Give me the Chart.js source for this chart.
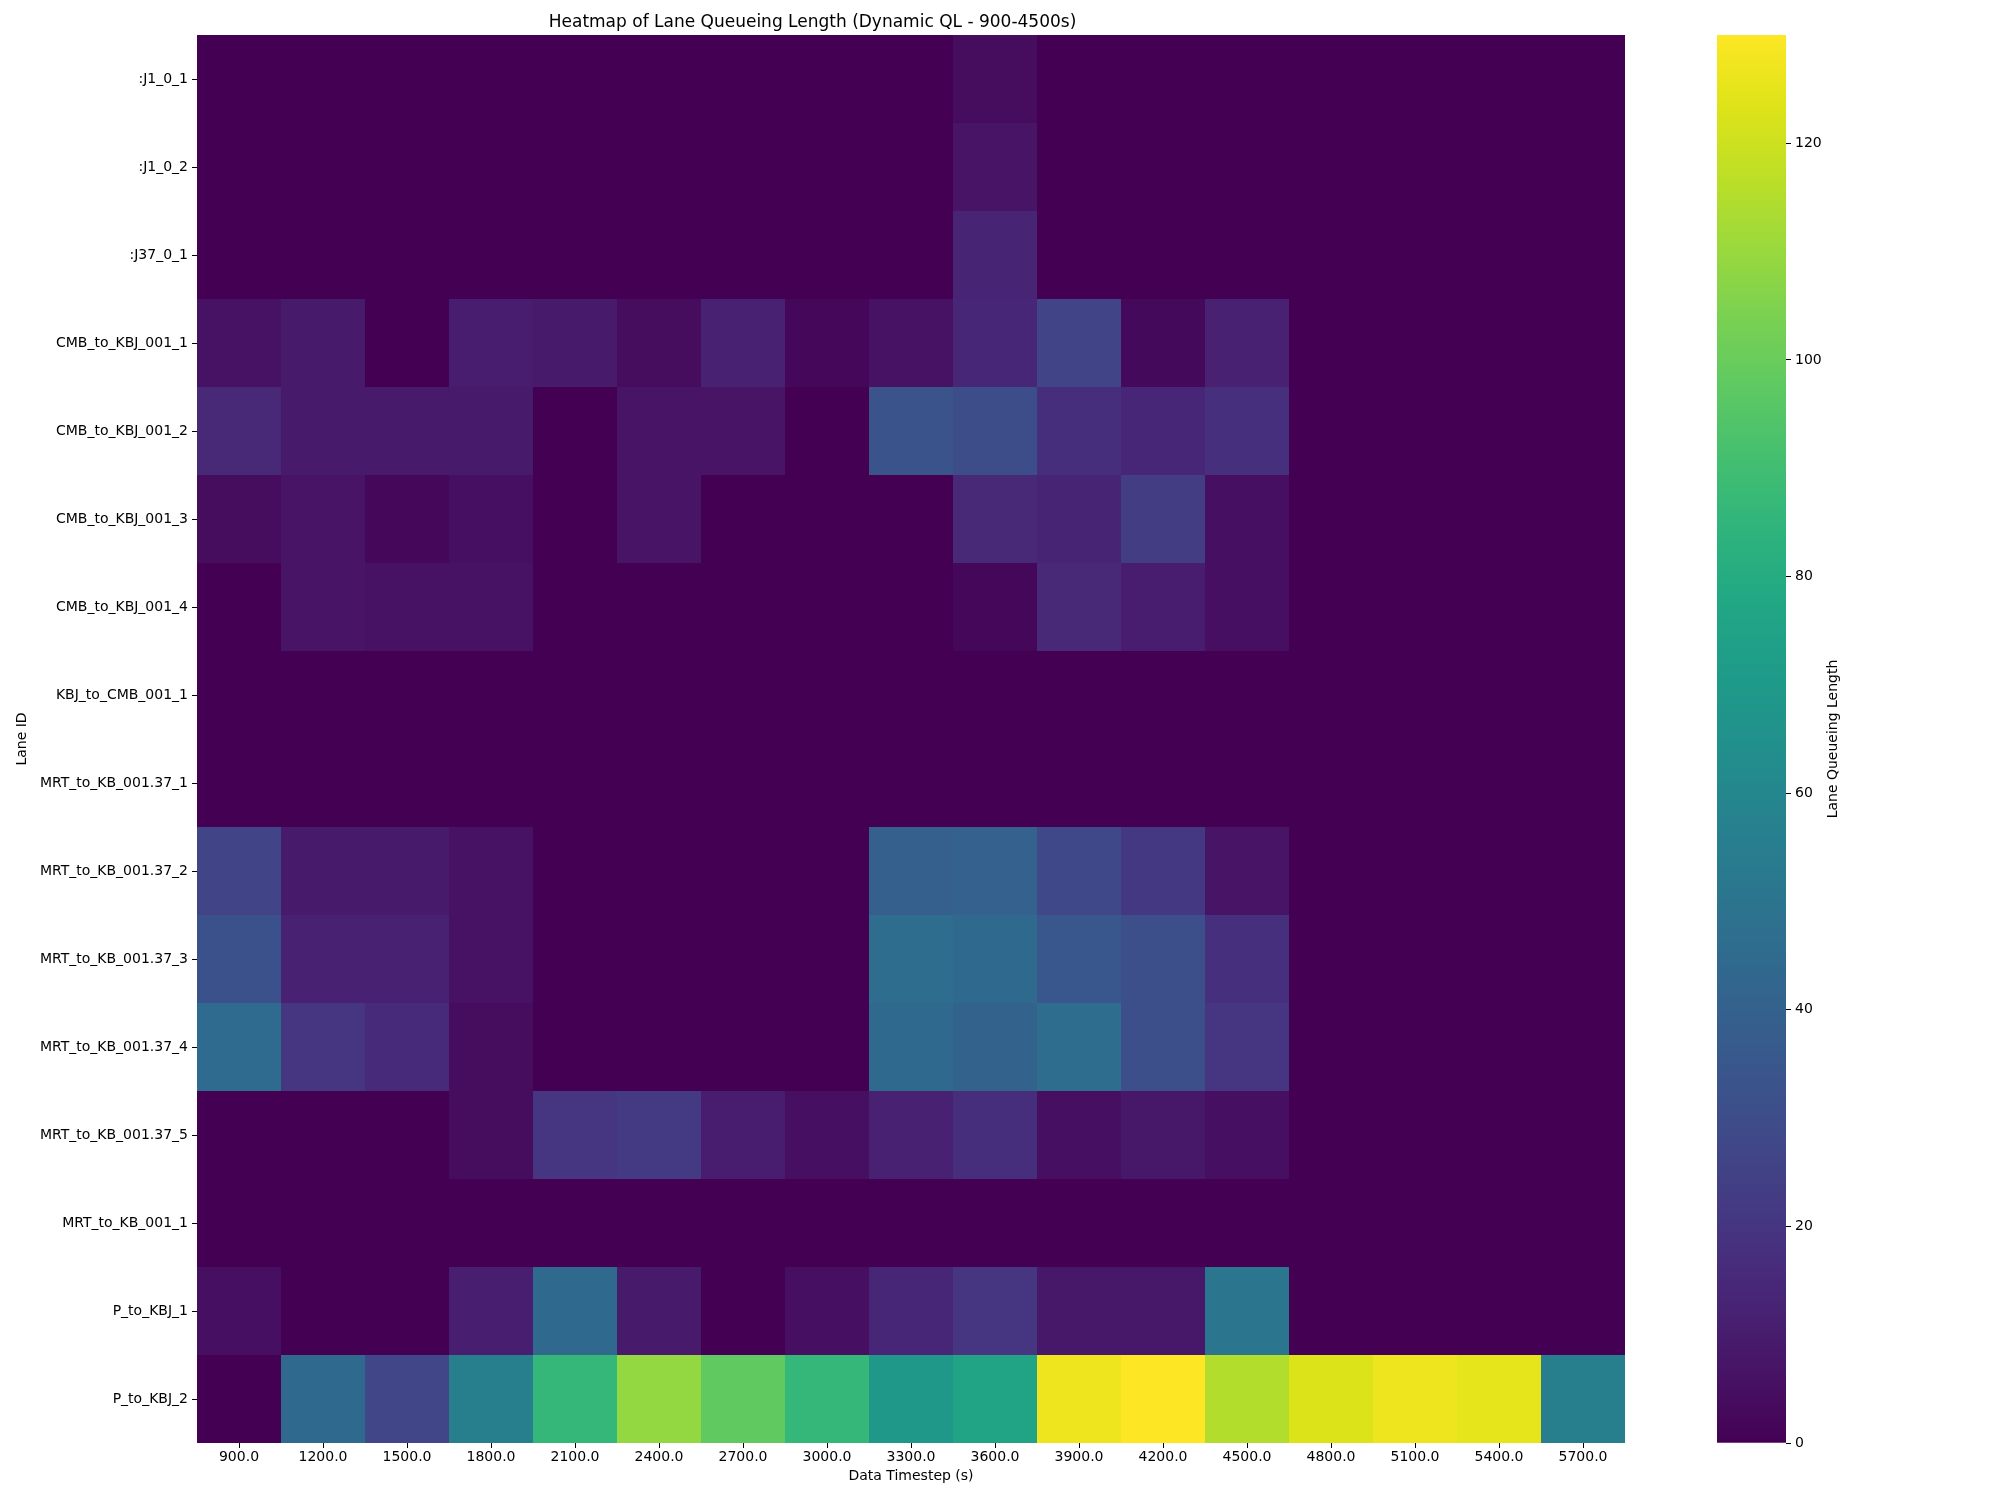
<!DOCTYPE html>
<html>
<head>
<meta charset="utf-8">
<script src="https://cdn.jsdelivr.net/npm/chart.js@4.4.1/dist/chart.umd.min.js"></script>
<style>
  html, body { margin: 0; padding: 0; background: #fff; }
  #wrap { position: relative; width: 2000px; height: 1500px; }
  #main-box { position: absolute; left: 0; top: 0; width: 1700px; height: 1500px; }
  #cbar-box { position: absolute; left: 1700px; top: 0; width: 300px; height: 1500px; }
</style>
</head>
<body>
<div id="wrap">
  <div id="main-box"><canvas id="heatmap"></canvas></div>
  <div id="cbar-box"><canvas id="colorbar"></canvas></div>
</div>
<script>
// レーン待ち行列長ヒートマップ（seaborn 風）

// --- データ ---
const timesteps = ['900.0', '1200.0', '1500.0', '1800.0', '2100.0', '2400.0', '2700.0', '3000.0', '3300.0',
  '3600.0', '3900.0', '4200.0', '4500.0', '4800.0', '5100.0', '5400.0', '5700.0'];

const laneIds = [':J1_0_1', ':J1_0_2', ':J37_0_1', 'CMB_to_KBJ_001_1', 'CMB_to_KBJ_001_2', 'CMB_to_KBJ_001_3',
  'CMB_to_KBJ_001_4', 'KBJ_to_CMB_001_1', 'MRT_to_KB_001.37_1', 'MRT_to_KB_001.37_2', 'MRT_to_KB_001.37_3',
  'MRT_to_KB_001.37_4', 'MRT_to_KB_001.37_5', 'MRT_to_KB_001_1', 'P_to_KBJ_1', 'P_to_KBJ_2'];

// 各レーンの値（timesteps 順）
const qJ1_0_1   = [0, 0, 0, 0, 0, 0, 0, 0, 0, 4, 0, 0, 0, 0, 0, 0, 0];
const qJ1_0_2   = [0, 0, 0, 0, 0, 0, 0, 0, 0, 7, 0, 0, 0, 0, 0, 0, 0];
const qJ37_0_1  = [0, 0, 0, 0, 0, 0, 0, 0, 0, 13, 0, 0, 0, 0, 0, 0, 0];
const qCMB_1    = [6, 9, 0, 10, 9, 4, 12, 2, 6, 14, 26, 3, 12, 0, 0, 0, 0];
const qCMB_2    = [15, 9, 9, 9, 0, 7, 7, 0, 33, 30, 17, 14, 18, 0, 0, 0, 0];
const qCMB_3    = [4, 7, 2, 5, 0, 7, 0, 0, 0, 15, 13, 23, 5, 0, 0, 0, 0];
const qCMB_4    = [0, 7, 6, 6, 0, 0, 0, 0, 0, 2, 15, 10, 5, 0, 0, 0, 0];
const qKBJ_1    = [0, 0, 0, 0, 0, 0, 0, 0, 0, 0, 0, 0, 0, 0, 0, 0, 0];
const qMRT37_1  = [0, 0, 0, 0, 0, 0, 0, 0, 0, 0, 0, 0, 0, 0, 0, 0, 0];
const qMRT37_2  = [26, 9, 9, 6, 0, 0, 0, 0, 39, 40, 28, 21, 7, 0, 0, 0, 0];
const qMRT37_3  = [32, 12, 12, 6, 0, 0, 0, 0, 46, 44, 35, 31, 18, 0, 0, 0, 0];
const qMRT37_4  = [45, 20, 16, 4, 0, 0, 0, 0, 44, 41, 46, 31, 20, 0, 0, 0, 0];
const qMRT37_5  = [0, 0, 0, 4, 20, 22, 10, 5, 12, 17, 5, 8, 5, 0, 0, 0, 0];
const qMRT_1    = [0, 0, 0, 0, 0, 0, 0, 0, 0, 0, 0, 0, 0, 0, 0, 0, 0];
const qP_1      = [5, 0, 0, 11, 44, 9, 0, 5, 14, 20, 8, 8, 51, 0, 0, 0, 0];
const qP_2      = [0, 44, 27, 56, 86, 109, 98, 86, 69, 76, 127, 130, 115, 123, 127, 125, 56];

const laneValues = [qJ1_0_1, qJ1_0_2, qJ37_0_1, qCMB_1, qCMB_2, qCMB_3, qCMB_4, qKBJ_1,
  qMRT37_1, qMRT37_2, qMRT37_3, qMRT37_4, qMRT37_5, qMRT_1, qP_1, qP_2];

const vmin = 0;
const vmax = 130;
const colorbarTicks = [0, 20, 40, 60, 80, 100, 120];

// viridis カラーマップ（等間隔ストップ）
const viridis = ['#440154', '#471365', '#482475', '#463480', '#414487', '#3b528b', '#355f8d',
  '#2f6c8e', '#2a788e', '#25848e', '#21918c', '#1e9c89', '#22a884', '#2fb47c', '#44bf70',
  '#5ec962', '#7ad151', '#9bd93c', '#bddf26', '#dfe318', '#fde725'];

function hexToRgb(h) {
  return [parseInt(h.slice(1, 3), 16), parseInt(h.slice(3, 5), 16), parseInt(h.slice(5, 7), 16)];
}

function colorFor(v) {
  let t = (v - vmin) / (vmax - vmin);
  t = Math.max(0, Math.min(1, t));
  const pos = t * (viridis.length - 1);
  const i = Math.min(Math.floor(pos), viridis.length - 2);
  const f = pos - i;
  const a = hexToRgb(viridis[i]);
  const b = hexToRgb(viridis[i + 1]);
  const c = a.map((x, k) => Math.round(x + (b[k] - x) * f));
  return `rgb(${c[0]}, ${c[1]}, ${c[2]})`;
}

Chart.defaults.font.family = '"DejaVu Sans", sans-serif';
Chart.defaults.color = '#000';

// --- ヒートマップ本体 ---
// 各レーンを1データセットとし、[行, 行+1] の浮動バーでセルを描く
// プロット領域は 1428x1408（84px x 88px のセル）にしてセル境界を整数ピクセルに揃える
const datasets = laneIds.map((lane, r) => ({
  label: lane,
  data: timesteps.map(() => [r, r + 1]),
  backgroundColor: laneValues[r].map(v => colorFor(v)),
  borderWidth: 0,
  inflateAmount: 0,
  barPercentage: 1.0,
  categoryPercentage: 1.0,
  grouped: false
}));

new Chart(document.getElementById('heatmap'), {
  type: 'bar',
  data: { labels: timesteps, datasets },
  options: {
    responsive: true,
    maintainAspectRatio: false,
    animation: false,
    layout: { padding: { left: 0, right: 75, top: 0, bottom: 0 } },
    plugins: {
      legend: { display: false },
      tooltip: { enabled: false },
      title: {
        display: true,
        text: 'Heatmap of Lane Queueing Length (Dynamic QL - 900-4500s)',
        font: { size: 17, weight: 'normal', lineHeight: 1.2 },
        color: '#000',
        padding: { top: 12, bottom: 2.6 }
      }
    },
    scales: {
      x: {
        type: 'category',
        offset: true,
        grid: { display: true, offset: false, drawOnChartArea: false, tickLength: 5, color: '#000' },
        border: { display: false },
        ticks: { font: { size: 14 }, padding: 1, maxRotation: 0, autoSkip: false },
        title: { display: true, text: 'Data Timestep (s)', font: { size: 14 }, padding: { top: 4, bottom: 15 } },
        afterFit: scale => { scale.height = 57; }
      },
      y: {
        type: 'linear',
        reverse: true,
        min: 0,
        max: laneIds.length,
        grid: { display: true, drawOnChartArea: false, tickLength: 5, color: '#000' },
        border: { display: false },
        afterBuildTicks: scale => { scale.ticks = laneIds.map((l, i) => ({ value: i + 0.5 })); },
        ticks: {
          font: { size: 14 },
          padding: 4,
          autoSkip: false,
          callback: (value, index) => laneIds[index]
        },
        title: { display: true, text: 'Lane ID', font: { size: 14 }, padding: { top: 14, bottom: 0 } },
        afterFit: scale => { scale.width = 197; }
      }
    }
  }
});

// --- カラーバー ---
const cbarLabelPlugin = {
  id: 'cbarLabel',
  afterDraw(chart) {
    const ctx = chart.ctx;
    const area = chart.chartArea;
    ctx.save();
    ctx.translate(133, (area.top + area.bottom) / 2);
    ctx.rotate(-Math.PI / 2);
    ctx.font = '14px "DejaVu Sans", sans-serif';
    ctx.fillStyle = '#000';
    ctx.textAlign = 'center';
    ctx.textBaseline = 'middle';
    ctx.fillText('Lane Queueing Length', 0, 0);
    ctx.restore();
  }
};

new Chart(document.getElementById('colorbar'), {
  type: 'bar',
  data: {
    labels: ['cbar'],
    datasets: [{
      data: [[vmin, vmax]],
      borderWidth: 0,
      barPercentage: 1.0,
      categoryPercentage: 1.0,
      backgroundColor: (c) => {
        const area = c.chart.chartArea;
        if (!area) return viridis[0];
        const g = c.chart.ctx.createLinearGradient(0, area.bottom, 0, area.top);
        viridis.forEach((col, k) => g.addColorStop(k / (viridis.length - 1), col));
        return g;
      }
    }]
  },
  options: {
    responsive: true,
    maintainAspectRatio: false,
    animation: false,
    layout: { padding: { left: 17, right: 0, top: 35, bottom: 57 } },
    plugins: { legend: { display: false }, tooltip: { enabled: false } },
    scales: {
      x: { display: false, offset: true },
      y: {
        type: 'linear',
        position: 'right',
        min: vmin,
        max: vmax,
        grid: { display: true, drawOnChartArea: false, tickLength: 5, color: '#000' },
        border: { display: false },
        afterBuildTicks: scale => { scale.ticks = colorbarTicks.map(v => ({ value: v })); },
        ticks: { font: { size: 14 }, padding: 4 },
        afterFit: scale => { scale.width = 214; }
      }
    }
  },
  plugins: [cbarLabelPlugin]
});
</script>
</body>
</html>
